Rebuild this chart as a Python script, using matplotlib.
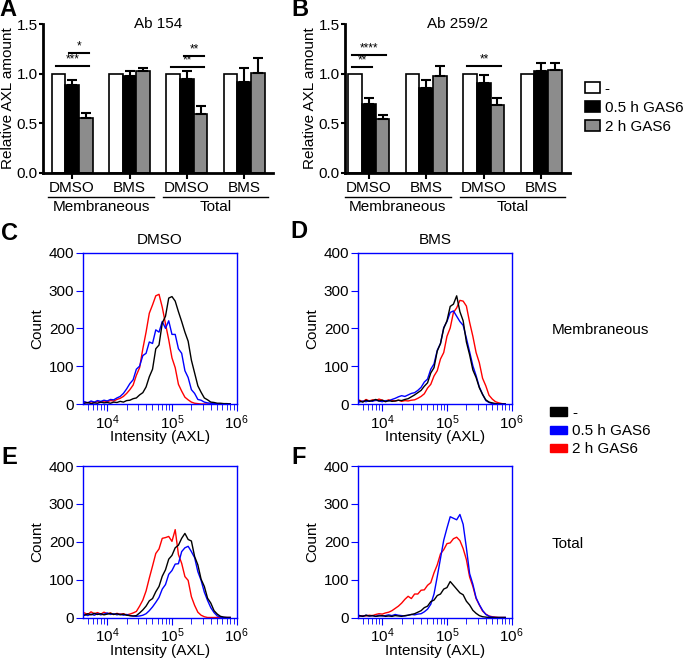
import numpy as np
import matplotlib
matplotlib.use('Agg')
import matplotlib.pyplot as plt
from matplotlib.patches import Patch
import matplotlib.transforms as mtransforms

plt.rcParams['font.family'] = ['Liberation Sans', 'DejaVu Sans']
plt.rcParams['font.size'] = 11

# ---------------- bar chart data ----------------
groups = ['DMSO', 'BMS', 'DMSO', 'BMS']
fractions = ['Membraneous', 'Total']
conditions = ['-', '0.5 h GAS6', '2 h GAS6']

A_ctrl = [1.0, 1.0, 1.0, 1.0]
A_05 = [0.886, 0.977, 0.947, 0.913]
A_05_err = [0.054, 0.053, 0.083, 0.141]
A_2 = [0.557, 1.030, 0.594, 1.010]
A_2_err = [0.043, 0.030, 0.081, 0.145]

B_ctrl = [1.0, 1.0, 1.0, 1.0]
B_05 = [0.695, 0.853, 0.906, 1.024]
B_05_err = [0.057, 0.080, 0.081, 0.081]
B_2 = [0.544, 0.977, 0.688, 1.040]
B_2_err = [0.036, 0.097, 0.064, 0.065]

# significance: (group, bar_i, bar_j, height, label)
A_sig = [(0, 1, 2, 1.21, '*'), (0, 0, 2, 1.08, '***'),
         (2, 1, 2, 1.18, '**'), (2, 0, 2, 1.07, '**')]
B_sig = [(0, 0, 2, 1.19, '****'), (0, 0, 1, 1.07, '**'),
         (2, 0, 2, 1.08, '**')]

# ---------------- histogram data ----------------
LOG_BINS = [3.65, 3.70, 3.75, 3.80, 3.85, 3.90, 3.95, 4.00, 4.05, 4.10,
            4.15, 4.20, 4.25, 4.30, 4.35, 4.40, 4.45, 4.50, 4.55, 4.60,
            4.65, 4.70, 4.75, 4.80, 4.85, 4.90, 4.95, 5.00, 5.05, 5.10,
            5.15, 5.20, 5.25, 5.30, 5.35, 5.40, 5.45, 5.50, 5.55, 5.60,
            5.65, 5.70, 5.75, 5.80, 5.85, 5.90]

C_black = [2, 4, 1, 3, 2, 5, 3, 4, 2, 5, 4, 7, 5, 9, 10, 14, 16, 24, 30, 45,
           72, 92, 146, 156, 214, 232, 280, 284, 272, 244, 218, 190, 166, 116, 82, 48,
           31, 16, 11, 5, 4, 2, 2, 1, 1, 0]
C_blue = [6, 3, 8, 5, 9, 7, 10, 8, 12, 11, 16, 20, 28, 40, 54, 64, 92, 100, 128, 134,
          164, 160, 196, 190, 218, 200, 220, 184, 184, 146, 134, 88, 70, 38, 28, 12,
          10, 5, 3, 2, 1, 0, 0, 0, 0, 0]
C_red = [5, 3, 6, 4, 7, 4, 8, 6, 9, 8, 12, 15, 20, 28, 38, 50, 76, 96, 146, 190,
         240, 262, 286, 290, 256, 212, 170, 122, 96, 52, 34, 18, 11, 5, 2, 1,
         0, 0, 0, 0, 0, 0, 0, 0, 0, 0]

D_black = [8, 5, 10, 7, 9, 12, 8, 10, 6, 9, 7, 8, 10, 9, 12, 14, 19, 24, 30, 36,
           47, 56, 82, 96, 140, 160, 200, 220, 258, 264, 286, 244, 220, 164, 130, 90,
           70, 43, 25, 11, 5, 3, 1, 0, 0, 0]
D_blue = [5, 8, 6, 9, 7, 10, 8, 6, 9, 8, 12, 15, 19, 22, 20, 24, 28, 30, 36, 44,
          58, 66, 92, 106, 142, 160, 202, 218, 242, 246, 232, 218, 208, 174, 138, 101,
          75, 45, 26, 9, 4, 1, 0, 0, 0, 0]
D_red = [10, 6, 12, 8, 11, 9, 13, 10, 8, 11, 9, 8, 10, 7, 9, 8, 10, 11, 15, 20,
         27, 42, 52, 74, 88, 119, 136, 179, 201, 242, 254, 274, 272, 259, 216, 179,
         136, 109, 68, 48, 23, 13, 6, 3, 1, 0]

E_black = [6, 10, 7, 11, 8, 10, 7, 9, 11, 8, 10, 7, 9, 6, 5, 4, 5, 12, 20, 30,
           44, 50, 68, 82, 109, 126, 154, 164, 184, 191, 209, 222, 206, 202, 161, 139,
           101, 82, 51, 38, 18, 9, 3, 1, 0, 0]
E_blue = [8, 5, 9, 6, 10, 7, 9, 12, 8, 10, 7, 9, 6, 8, 5, 4, 3, 4, 6, 10,
          18, 28, 40, 53, 75, 87, 114, 124, 141, 142, 174, 184, 188, 174, 158, 121,
          98, 67, 45, 26, 13, 4, 1, 0, 0, 0]
E_red = [12, 8, 15, 10, 13, 9, 14, 10, 12, 8, 11, 9, 10, 7, 9, 12, 16, 30, 46, 70,
         104, 136, 169, 181, 209, 211, 214, 201, 232, 166, 143, 108, 98, 55, 32, 14,
         6, 2, 0, 0, 0, 0, 0, 0, 0, 0]

F_black = [5, 3, 6, 4, 5, 3, 4, 5, 3, 4, 3, 5, 4, 3, 5, 6, 8, 10, 14, 18,
           26, 30, 42, 46, 58, 62, 75, 79, 95, 85, 75, 65, 60, 43, 33, 19,
           11, 5, 2, 1, 0, 0, 0, 0, 0, 0]
F_blue = [5, 3, 6, 4, 5, 3, 6, 4, 5, 7, 5, 8, 6, 5, 4, 6, 8, 7, 9, 10,
          15, 22, 35, 62, 108, 156, 204, 236, 266, 262, 258, 272, 246, 184, 116, 88,
          52, 34, 19, 8, 3, 1, 0, 0, 0, 0]
F_red = [3, 5, 4, 6, 5, 8, 10, 9, 12, 14, 18, 24, 30, 38, 48, 56, 50, 62, 62, 72,
         73, 85, 92, 118, 139, 168, 179, 195, 197, 208, 212, 203, 182, 153, 107, 82,
         50, 33, 17, 9, 4, 2, 1, 0, 0, 0]

# ---------------- figure ----------------
W, H = 685, 658
fig = plt.figure(figsize=(W / 100, H / 100), dpi=100)


def ax_px(l, t, r, b):
    return fig.add_axes([l / W, 1 - b / H, (r - l) / W, (b - t) / H])


BAR_COLORS = ['white', 'black', '#8c8c8c']


def bar_panel(ax, vals, errs, title, sigs, xlim):
    centers = np.arange(len(groups)) * 4.2 + 1
    for k in range(3):
        x = centers + (k - 1)
        ax.bar(x, vals[k], width=1, color=BAR_COLORS[k], edgecolor='black',
               linewidth=1.2, zorder=2)
        if errs[k] is not None:
            ax.errorbar(x, vals[k], yerr=[np.zeros(len(x)), errs[k]], fmt='none',
                        ecolor='black', elinewidth=1.5, capsize=3.5, capthick=1.5,
                        zorder=3)
    ax.set_xlim(*xlim)
    ax.set_ylim(0, 1.5)
    ax.set_yticks([0, 0.5, 1.0, 1.5], ['0.0', '0.5', '1.0', '1.5'])
    ax.set_xticks(centers, groups)
    ax.tick_params(axis='x', length=4, width=1.5, pad=2)
    ax.tick_params(axis='y', length=3, width=1.5, pad=0.8)
    for s in ['top', 'right']:
        ax.spines[s].set_visible(False)
    for s in ['left', 'bottom']:
        ax.spines[s].set_linewidth(2)
    ax.set_ylabel('Relative AXL amount', labelpad=1)
    ax.text(0.5, 1.0, title, transform=ax.transAxes, ha='center', va='center',
            fontsize=11)
    trans = mtransforms.blended_transform_factory(ax.transData, ax.transAxes)
    for (x0, x1), name in zip([(-0.75, 7.0), (7.65, 15.35)], fractions):
        ax.plot([x0, x1], [-0.16, -0.16], transform=trans, color='black', lw=1,
                clip_on=False)
        ax.text((x0 + x1) / 2, -0.225, name, transform=trans, ha='center',
                va='center')
    for g, i, j, h, lab in sigs:
        x0 = centers[g] + (i - 1) - 0.2
        x1 = centers[g] + (j - 1) + 0.25
        ax.plot([x0, x1], [h, h], color='black', lw=1.5, clip_on=False)
        ax.text((x0 + x1) / 2, h + 0.003, lab, ha='center', va='bottom',
                fontsize=8.5)


axA = ax_px(43, 24, 273, 173)
bar_panel(axA, [A_ctrl, A_05, A_2], [None, A_05_err, A_2_err], 'Ab 154', A_sig,
          (-1.13, 15.7))
axB = ax_px(345, 24, 570, 173)
bar_panel(axB, [B_ctrl, B_05, B_2], [None, B_05_err, B_2_err], 'Ab 259/2', B_sig,
          (-0.74, 15.7))

bar_handles = [Patch(facecolor=c, edgecolor='black', linewidth=1.2) for c in BAR_COLORS]
fig.legend(bar_handles, conditions, loc='upper left',
           bbox_to_anchor=(585 / W, 1 - 82 / H), frameon=False, borderpad=0,
           borderaxespad=0, handlelength=1.0, handleheight=0.7,
           handletextpad=0.3, labelspacing=0.32, fontsize=11)

HIST_COLORS = ['red', 'blue', 'black']


def hist_panel(ax, curves, title=None):
    x = 10 ** np.array(LOG_BINS)
    for y, c in zip(curves, HIST_COLORS):
        ax.plot(x, y, color=c, lw=1)
    ax.set_xscale('log')
    ax.set_xlim(4270, 1e6)
    ax.set_ylim(0, 400)
    ax.set_yticks([0, 100, 200, 300, 400])
    for s in ax.spines.values():
        s.set_color('blue')
        s.set_linewidth(1)
    ax.tick_params(which='both', color='blue', direction='out')
    ax.tick_params(which='major', length=5, pad=1.5)
    ax.tick_params(which='minor', length=4)
    ax.set_xlabel('Intensity (AXL)', labelpad=-1)
    ax.set_ylabel('Count', labelpad=3)
    if title:
        ax.set_title(title, fontsize=11, pad=6)


axC = ax_px(83.3, 252.7, 236.7, 404)
hist_panel(axC, [C_red, C_blue, C_black], 'DMSO')
axD = ax_px(358.3, 252.7, 511.7, 404)
hist_panel(axD, [D_red, D_blue, D_black], 'BMS')
axE = ax_px(83.3, 466, 236.7, 617.5)
hist_panel(axE, [E_red, E_blue, E_black])
axF = ax_px(358.3, 466, 511.7, 617.5)
hist_panel(axF, [F_red, F_blue, F_black])

hist_labels = ['-', '0.5 h GAS6', '2 h GAS6']
hist_handles = [Patch(facecolor=c, edgecolor=c) for c in ['black', 'blue', 'red']]
fig.legend(hist_handles, hist_labels, loc='upper left',
           bbox_to_anchor=(550 / W, 1 - 406 / H), frameon=False, borderpad=0,
           borderaxespad=0, handlelength=1.1, handleheight=0.45,
           handletextpad=0.35, labelspacing=0.27, fontsize=11)

fig.text(552 / W, 1 - 330 / H, 'Membraneous', ha='left', va='center')
fig.text(552 / W, 1 - 544 / H, 'Total', ha='left', va='center')

for lab, (px, py) in zip('ABCDEF', [(8, 10), (300, 10), (9, 233), (299, 232),
                                     (9, 457), (299, 457)]):
    fig.text(px / W, 1 - py / H, lab, fontsize=17, fontweight='bold',
             ha='center', va='center')

fig.savefig('out.png', dpi=100)
